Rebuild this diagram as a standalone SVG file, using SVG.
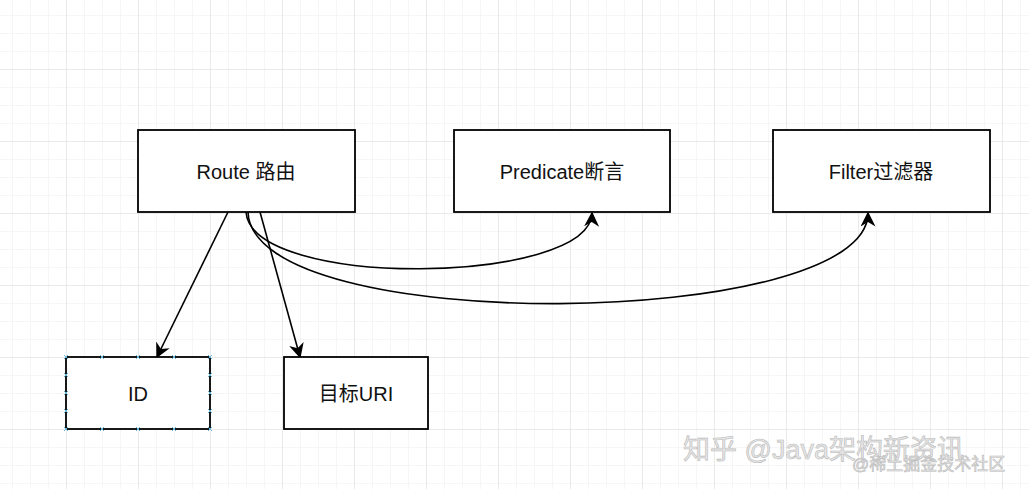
<svg xmlns="http://www.w3.org/2000/svg" width="1029" height="489" viewBox="0 0 1029 489">
<defs>
<pattern id="minor" width="18" height="18" patternUnits="userSpaceOnUse" x="12" y="15"><path d="M0 0H18M0 0V18" fill="none" stroke="#eeeeee" stroke-width="1"/></pattern>
<pattern id="major" width="72" height="72" patternUnits="userSpaceOnUse" x="66" y="69"><path d="M0 0H72M0 0V72" fill="none" stroke="#dddddd" stroke-width="1"/></pattern>
<marker id="arr" viewBox="0 0 10 10" refX="9" refY="5" markerWidth="15" markerHeight="15" markerUnits="userSpaceOnUse" orient="auto"><path d="M0 0L10 5L0 10L3 5Z" fill="#000"/></marker>
<style>
.n{fill:#fff;stroke:#000;stroke-width:1.8}
.t{font-family:"Liberation Sans","Noto Sans CJK SC",sans-serif;font-size:20px;text-anchor:middle;dominant-baseline:central;fill:#111}
.e{fill:none;stroke:#000;stroke-width:1.6;marker-end:url(#arr)}
.h{fill:none;stroke:#6bb6d6;stroke-width:1}
.w{font-family:"Liberation Sans","Noto Sans CJK SC",sans-serif;fill:#e6e6e6;stroke:#bbb;stroke-width:0.6}
</style>
</defs>
<rect width="1029" height="489" fill="#fff"/>
<rect width="1029" height="489" fill="url(#minor)"/>
<rect width="1029" height="489" fill="url(#major)"/>
<g id="connectors">
<path class="e" d="M228 212L157 357"/>
<path class="e" d="M260 212L300 357"/>
<path class="e" d="M246 212C252 290 590 285 592 213"/>
<path class="e" d="M248 212C252 338 868 330 868 213"/>
</g>
<g id="route"><rect class="n" x="138" y="130" width="217" height="82"/><text class="t" x="246" y="172">Route 路由</text></g>
<g id="predicate"><rect class="n" x="454" y="130" width="216" height="82"/><text class="t" x="562" y="172">Predicate断言</text></g>
<g id="filter"><rect class="n" x="773" y="130" width="217" height="82"/><text class="t" x="881" y="172">Filter过滤器</text></g>
<g id="id"><rect class="n" x="66" y="357" width="144" height="72"/><text class="t" x="138" y="394">ID</text>
<path class="h" d="M64 355l4 4m0-4l-4 4M100 355l4 4m0-4l-4 4M136 355l4 4m0-4l-4 4M172 355l4 4m0-4l-4 4M208 355l4 4m0-4l-4 4M64 427l4 4m0-4l-4 4M100 427l4 4m0-4l-4 4M136 427l4 4m0-4l-4 4M172 427l4 4m0-4l-4 4M208 427l4 4m0-4l-4 4M64 373l4 4m0-4l-4 4M64 391l4 4m0-4l-4 4M64 409l4 4m0-4l-4 4M208 373l4 4m0-4l-4 4M208 391l4 4m0-4l-4 4M208 409l4 4m0-4l-4 4"/></g>
<g id="uri"><rect class="n" x="284" y="357" width="144" height="72"/><text class="t" x="356" y="394">目标URI</text></g>
<text class="w" x="683" y="459" font-size="27">知乎 @Java架构新资讯</text>
<text class="w" x="852" y="470" font-size="17">@稀土掘金技术社区</text>
</svg>
